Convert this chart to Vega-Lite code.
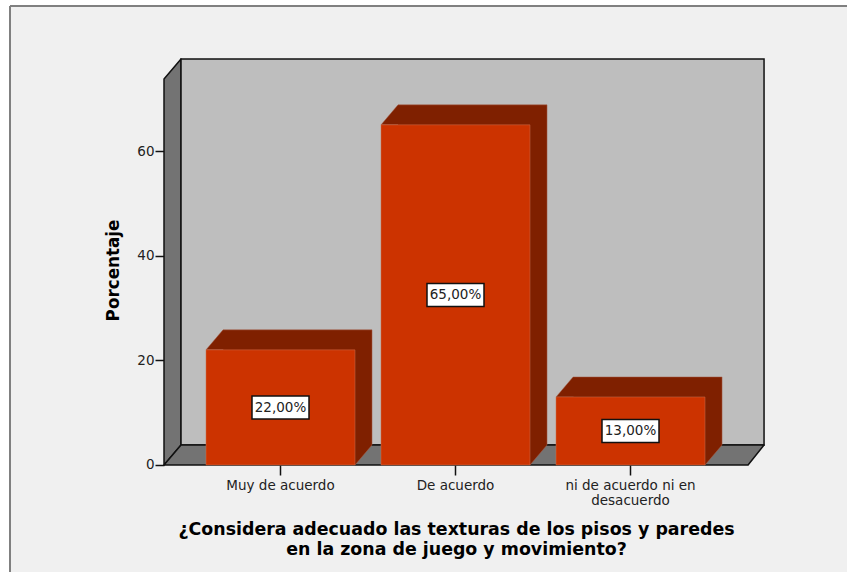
{
"$schema":"https://vega.github.io/schema/vega-lite/v6.json",
"width":837,"height":566,
"autosize":{"type":"none"},
"padding":{"left":10,"top":6,"right":0,"bottom":0},
"background":"#ffffff",
"config":{"view":{"fill":"#f0f0f0","stroke":null},"font":"DejaVu Sans"},
"datasets":{
"bars":[
{"categoria":"Muy de acuerdo","porcentaje":22,"centro":11,"etiqueta":"22,00%"},
{"categoria":"De acuerdo","porcentaje":65,"centro":32.5,"etiqueta":"65,00%"},
{"categoria":"ni de acuerdo ni en desacuerdo","porcentaje":13,"centro":6.5,"etiqueta":"13,00%"}
],
"marco":[
{"cara":"pared izquierda","u":0.3314,"lo":0,"hi":73.76},
{"cara":"pared izquierda","u":0.4286,"lo":3.822,"hi":77.58}
],
"fondo":[
{"cara":"pared fondo","u":0.4286,"lo":3.822,"hi":77.58},
{"cara":"pared fondo","u":3.76,"lo":3.822,"hi":77.58}
],
"suelo":[
{"cara":"suelo","u":0.3314,"lo":0,"hi":0},
{"cara":"suelo","u":0.4286,"lo":0,"hi":3.822},
{"cara":"suelo","u":3.6686,"lo":0,"hi":3.822},
{"cara":"suelo","u":3.76,"lo":3.822,"hi":3.822}
],
"caras":[
{"barra":"a","u":0.5715,"lo":22,"hi":22},
{"barra":"a","u":0.6686,"lo":22,"hi":25.82},
{"barra":"a","u":1.4229,"lo":0,"hi":25.82},
{"barra":"a","u":1.52,"lo":3.822,"hi":25.82},
{"barra":"b","u":1.5715,"lo":65,"hi":65},
{"barra":"b","u":1.6686,"lo":65,"hi":68.82},
{"barra":"b","u":2.4229,"lo":0,"hi":68.82},
{"barra":"b","u":2.52,"lo":3.822,"hi":68.82},
{"barra":"c","u":2.5715,"lo":13,"hi":13},
{"barra":"c","u":2.6686,"lo":13,"hi":16.82},
{"barra":"c","u":3.4229,"lo":0,"hi":16.82},
{"barra":"c","u":3.52,"lo":3.822,"hi":16.82}
],
"borde":[{"u0":-0.5486,"u1":4.234,"v0":-20.45,"v1":87.71}]
},
"data":{"name":"bars"},
"resolve":{"scale":{"x":"independent"},"axis":{"x":"independent"}},
"layer":[
{
"encoding":{
"x":{"field":"u","type":"quantitative","axis":null,"scale":{"domain":[-0.5486,4.234],"nice":false,"zero":false}},
"y":{"field":"lo","type":"quantitative","scale":{"domain":[-20.45,87.71],"nice":false,"zero":false},
"axis":{"title":"Porcentaje","values":[0,20,40,60],"grid":false,"domain":false,"offset":-154,"tickSize":9,"tickWidth":1.5,"tickColor":"#111111","labelFontSize":13.5,"labelColor":"#222222","labelPadding":1,"titleFontSize":16.8,"titleFontWeight":"bold","titleColor":"#000000","titleX":-42,"titleY":264,"titleAngle":-90,"zindex":0}},
"y2":{"field":"hi"}
},
"layer":[
{"data":{"name":"borde"},"mark":{"type":"rule","stroke":"#808080","strokeWidth":2},"encoding":{"x":{"field":"u0","type":"quantitative"},"y":{"field":"v0","type":"quantitative"},"y2":{"field":"v1"}}},
{"data":{"name":"borde"},"mark":{"type":"rule","stroke":"#808080","strokeWidth":2},"encoding":{"x":{"field":"u0","type":"quantitative"},"x2":{"field":"u1"},"y":{"field":"v1","type":"quantitative"},"y2":null}},
{"data":{"name":"marco"},"mark":{"type":"area","fill":"#737373","stroke":"#111111","strokeWidth":1.5,"strokeJoin":"round"}},
{"data":{"name":"fondo"},"mark":{"type":"area","fill":"#bebebe","stroke":"#111111","strokeWidth":1.5}},
{"data":{"name":"suelo"},"mark":{"type":"area","fill":"#737373","stroke":"#111111","strokeWidth":1.5,"strokeJoin":"round"}},
{"data":{"name":"caras"},"mark":{"type":"area","fill":"#7f2000","stroke":"#a8604a","strokeWidth":0.5},"encoding":{"detail":{"field":"barra"}}}
]
},
{
"encoding":{
"x":{"field":"categoria","type":"nominal","sort":null,
"scale":{"range":[183,708],"paddingInner":0.1486,"paddingOuter":0.0743},
"axis":{"title":["¿Considera adecuado las texturas de los pisos y paredes","en la zona de juego y movimiento?"],"labelAngle":0,"domain":false,"offset":-107,"tickSize":10,"tickWidth":1.5,"tickColor":"#111111","labelFontSize":13.5,"labelColor":"#222222","labelPadding":3,"labelLineHeight":15,"labelExpr":"datum.label == 'ni de acuerdo ni en desacuerdo' ? ['ni de acuerdo ni en','desacuerdo'] : datum.label","labelLimit":200,"titleFontSize":17.4,"titleFontWeight":"bold","titleColor":"#000000","titleLineHeight":20,"titleX":446,"titleY":64,"titleBaseline":"middle","titleAlign":"center"}}
},
"layer":[
{"mark":{"type":"bar","fill":"#cc3300","stroke":"#c8704f","strokeWidth":0.5},"encoding":{"y":{"field":"porcentaje","type":"quantitative"}}},
{"mark":{"type":"rect","fill":"#ffffff","stroke":"#111111","strokeWidth":1.5,"width":57,"height":23},"encoding":{"y":{"field":"centro","type":"quantitative"}}},
{"mark":{"type":"text","fontSize":13.5,"fill":"#222222","align":"center","baseline":"middle","dy":0.5},"encoding":{"y":{"field":"centro","type":"quantitative"},"text":{"field":"etiqueta"}}}
]
}
]
}
